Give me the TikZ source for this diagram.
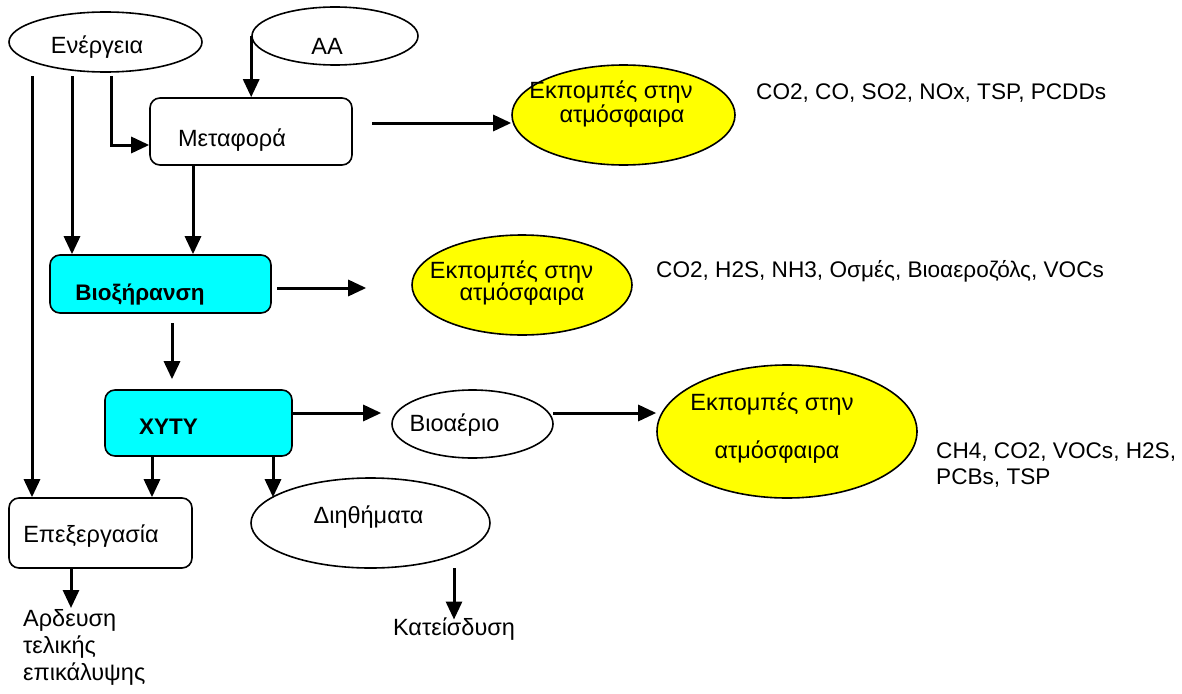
\documentclass[tikz,border=0pt]{standalone}
\usepackage{fontspec}
\setmainfont{Liberation Sans}
\usetikzlibrary{shapes.geometric,arrows.meta}

\definecolor{boxcyan}{RGB}{0,255,255}
\definecolor{emyellow}{RGB}{255,255,0}

\tikzset{
  txt/.style={inner sep=1pt, font=\fontsize{23.5}{27}\selectfont},
  listtxt/.style={inner sep=1pt, font=\fontsize{22.6}{26}\selectfont},
  boldtxt/.style={inner sep=1pt, font=\fontsize{22.5}{27}\selectfont\bfseries},
  procbox/.style={draw, line width=1.6pt, rounded corners=10pt},
  hotbox/.style={procbox, fill=boxcyan},
  oval/.style={draw, ellipse, line width=1.6pt, inner sep=0pt},
  emis/.style={oval, fill=emyellow},
  flow/.style={line width=3pt, -{Triangle[length=18pt,width=16pt]}},
}

\begin{document}
\begin{tikzpicture}[x=1pt,y=-1pt]
\useasboundingbox (0,0) rectangle (1182,693);
% sources
\node[oval, minimum width=193pt, minimum height=60pt] (ener) at (105.5,42) {};
\node[txt] (enertxt) at (97,47) {Ενέργεια};
\node[oval, minimum width=166pt, minimum height=58pt] (aa) at (335,36) {};
\node[txt] (aatxt) at (327,46) {ΑΑ};
% process chain
\node[procbox, minimum width=202pt, minimum height=67pt] (meta) at (251,131.5) {};
\node[txt] (metatxt) at (232,140) {Μεταφορά};
\node[hotbox, minimum width=221pt, minimum height=58pt] (bio) at (160.5,284) {};
\node[boldtxt] (biotxt) at (140,295) {Βιοξήρανση};
\node[hotbox, minimum width=187pt, minimum height=66pt] (xyty) at (198.5,423) {};
\node[boldtxt] (xytytxt) at (168.5,427) {ΧΥΤΥ};
\node[procbox, minimum width=183pt, minimum height=70pt] (epex) at (100.5,533) {};
\node[txt] (epextxt) at (91,536) {Επεξεργασία};
\node[oval, minimum width=161pt, minimum height=68pt] (biog) at (472.5,424) {};
\node[txt] (biogtxt) at (454.5,425) {Βιοαέριο};
\node[oval, minimum width=239pt, minimum height=90pt] (dieth) at (370.5,523) {};
\node[txt] (diethtxt) at (368.5,517) {Διηθήματα};
% emissions
\node[emis, minimum width=223pt, minimum height=100pt] (em1) at (623.5,115) {};
\node[txt] (em1a) at (611,92) {Εκπομπές στην};
\node[txt] (em1b) at (622,116) {ατμόσφαιρα};
\node[emis, minimum width=220pt, minimum height=100pt] (em2) at (522,285) {};
\node[txt] (em2a) at (511.5,272) {Εκπομπές στην};
\node[txt] (em2b) at (522,294) {ατμόσφαιρα};
\node[emis, minimum width=260pt, minimum height=133pt] (em3) at (787,431.5) {};
\node[txt] (em3a) at (772,404) {Εκπομπές στην};
\node[txt] (em3b) at (777,452) {ατμόσφαιρα};
% pollutant lists
\node[listtxt, anchor=west] (list1) at (755,93) {CO2, CO, SO2, NOx, TSP, PCDDs};
\node[listtxt, anchor=west] (list2) at (655,271) {CO2, H2S, NH3, Οσμές, Βιοαεροζόλς, VOCs};
\node[listtxt, anchor=west, align=left] (list3) at (935,465) {CH4, CO2, VOCs, H2S,\\PCBs, TSP};
% end uses
\node[txt, anchor=north west, align=left] (ard) at (22,608) {Αρδευση\\τελικής\\επικάλυψης};
\node[txt] (kat) at (454,629) {Κατείσδυση};
% ports
\coordinate (ea) at (32,76);
\coordinate (eb) at (72,76);
\coordinate (ec) at (111,76);
\coordinate (mo) at (372,123);
\coordinate (md) at (193,165);
\coordinate (bo) at (277,288);
\coordinate (bd) at (172,323);
\coordinate (xo) at (292,413);
\coordinate (go) at (553,413);
\coordinate (xa) at (152,456);
\coordinate (xb) at (273,456);
\coordinate (po) at (71,568);
\coordinate (dout) at (454,568);
% flows
\draw[flow] (aa.west) -- (aa.west |- meta.north);
\draw[flow] (ec) |- ([yshift=-13.5pt]meta.west);
\draw[flow] (eb) -- (eb |- bio.north);
\draw[flow] (ea) -- (ea |- epex.north);
\draw[flow] (mo) -- (mo -| em1.west);
\draw[flow] (md) -- (md |- bio.north);
\draw[flow, shorten >=45pt] (bo) -- (bo -| em2.west);
\draw[flow, shorten >=10pt] (bd) -- (bd |- xyty.north);
\draw[flow, shorten >=10pt] (xo) -- (xo -| biog.west);
\draw[flow] (go) -- (go -| em3.west);
\draw[flow] (xa) -- (xa |- epex.north);
\draw[flow] (xb) -- (xb |- epex.north);
\draw[flow] (po) -- (po |- ard.north);
\draw[flow, shorten >=-3pt] (dout) -- (kat.north);
\end{tikzpicture}
\end{document}
